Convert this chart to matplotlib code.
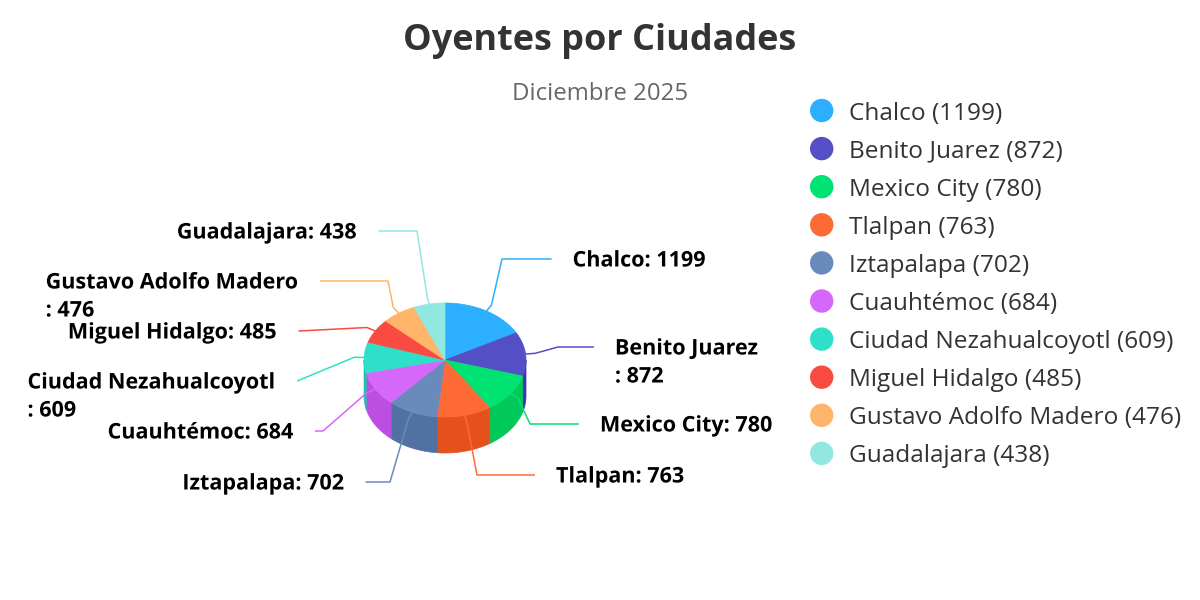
import numpy as np
import matplotlib.pyplot as plt
from matplotlib.patches import Polygon, Circle
import matplotlib.patheffects as pe
from matplotlib.colors import to_rgb

# datos
ciudades = ['Chalco', 'Benito Juarez', 'Mexico City', 'Tlalpan', 'Iztapalapa',
            'Cuauhtémoc', 'Ciudad Nezahualcoyotl', 'Miguel Hidalgo',
            'Gustavo Adolfo Madero', 'Guadalajara']
oyentes = [1199, 872, 780, 763, 702, 684, 609, 485, 476, 438]
colores = ['#2caffe', '#544fc5', '#00e272', '#fe6a35', '#6b8abc',
           '#d568fb', '#2ee0ca', '#fa4b42', '#feb56a', '#91e8e1']

titulo = 'Oyentes por Ciudades'
subtitulo = 'Diciembre 2025'

# posiciones de las etiquetas (filas en pixeles, como las reparte Highcharts)
label_y = [259, 347, 424, 475, 482, 431, 381, 331, 281, 231]
bend_x = [502, 558, 530, 477, 390, 323, None, None, 388, 417]
envueltas = {'Benito Juarez', 'Ciudad Nezahualcoyotl', 'Gustavo Adolfo Madero'}

FUENTE = ['Open Sans', 'DejaVu Sans']

# geometria del pastel 3D (pixeles)
cx, cy = 445, 360
rx, ry = 81, 57
depth = 36
lab_a, lab_b = 149.5, 144   # elipse donde terminan los conectores

fig = plt.figure(figsize=(12, 6), dpi=100)
ax = fig.add_axes([0, 0, 1, 1])
ax.set_xlim(0, 1200)
ax.set_ylim(600, 0)
ax.axis('off')
renderer = fig.canvas.get_renderer()


def fit_size(text, target_px, **kw):
    t = ax.text(0, 0, text, fontsize=10, family=FUENTE, **kw)
    w = t.get_window_extent(renderer).width
    t.remove()
    return 10 * target_px / w


def text_w(text, size, **kw):
    t = ax.text(0, 0, text, fontsize=size, family=FUENTE, **kw)
    w = t.get_window_extent(renderer).width
    t.remove()
    return w


def punto(theta, escala=1.0, dz=0.0):
    th = np.radians(theta)
    return cx + rx * escala * np.sin(th), cy - ry * escala * np.cos(th) + dz


def oscuro(c, f=0.1):
    r, g, b = to_rgb(c)
    return tuple(max(0, v - f) for v in (r, g, b))


total = sum(oyentes)
angs = np.concatenate([[0], np.cumsum(oyentes) / total * 360])

# caras laterales (solo la mitad frontal)
for i, col in enumerate(colores):
    a0, a1 = max(angs[i], 90), min(angs[i + 1], 270)
    if a1 <= a0:
        continue
    t = np.linspace(a0, a1, 40)
    arriba = [punto(a) for a in t]
    abajo = [punto(a, dz=depth) for a in t[::-1]]
    ax.add_patch(Polygon(arriba + abajo, closed=True, facecolor=oscuro(col),
                         edgecolor=oscuro(col), lw=0.5, zorder=2))

# caras superiores
for i, col in enumerate(colores):
    t = np.linspace(angs[i], angs[i + 1], 60)
    pts = [(cx, cy)] + [punto(a) for a in t]
    ax.add_patch(Polygon(pts, closed=True, facecolor=col, edgecolor=col,
                         lw=0.5, zorder=3))

# etiquetas de datos con conectores
lab_size = fit_size('Chalco: 1199', 133, fontweight='bold')
contorno = [pe.withStroke(linewidth=2, foreground='white')]
for i, (nombre, val, col) in enumerate(zip(ciudades, oyentes, colores)):
    mid = (angs[i] + angs[i + 1]) / 2
    derecha = mid < 180
    sgn = 1 if derecha else -1
    ly = label_y[i]
    end_x = cx + sgn * lab_a * np.sqrt(max(1 - ((ly - cy) / lab_b) ** 2, 0))
    xs, ys = zip(punto(mid), punto(mid, 1.12))
    xs, ys = list(xs), list(ys)
    if bend_x[i] is not None:
        xs.append(bend_x[i])
        ys.append(ly)
    xs.append(end_x)
    ys.append(ly)
    ax.plot(xs, ys, color=col, lw=1.1, zorder=4, solid_capstyle='butt')

    if nombre in envueltas:
        lineas = [nombre, f': {val}']
    else:
        lineas = [f'{nombre}: {val}']
    w1 = text_w(lineas[0], lab_size, fontweight='bold')
    x0 = end_x + 21 if derecha else end_x - 21 - w1
    for k, linea in enumerate(lineas):
        ax.text(x0, ly + 7.5 + k * 28, linea, fontsize=lab_size,
                fontweight='bold', family=FUENTE, color='black',
                ha='left', va='baseline', zorder=5, path_effects=contorno)

# titulo y subtitulo
ax.text(600, 50, titulo, fontsize=fit_size(titulo, 393, fontweight='bold'),
        fontweight='bold', family=FUENTE, color='#333333',
        ha='center', va='baseline')
ax.text(600, 100, subtitulo, fontsize=fit_size(subtitulo, 176),
        family=FUENTE, color='#666666', ha='center', va='baseline')

# leyenda
leg_size = fit_size('Ciudad Nezahualcoyotl (609)', 324)
for i, (nombre, val, col) in enumerate(zip(ciudades, oyentes, colores)):
    fy = 110.5 + i * 38.1
    ax.add_patch(Circle((821.7, fy), 11.7, facecolor=col, edgecolor='none'))
    ax.text(849, fy + 9, f'{nombre} ({val})', fontsize=leg_size,
            family=FUENTE, color='#333333', ha='left', va='baseline')

fig.savefig('out.png', dpi=100, facecolor='white')
